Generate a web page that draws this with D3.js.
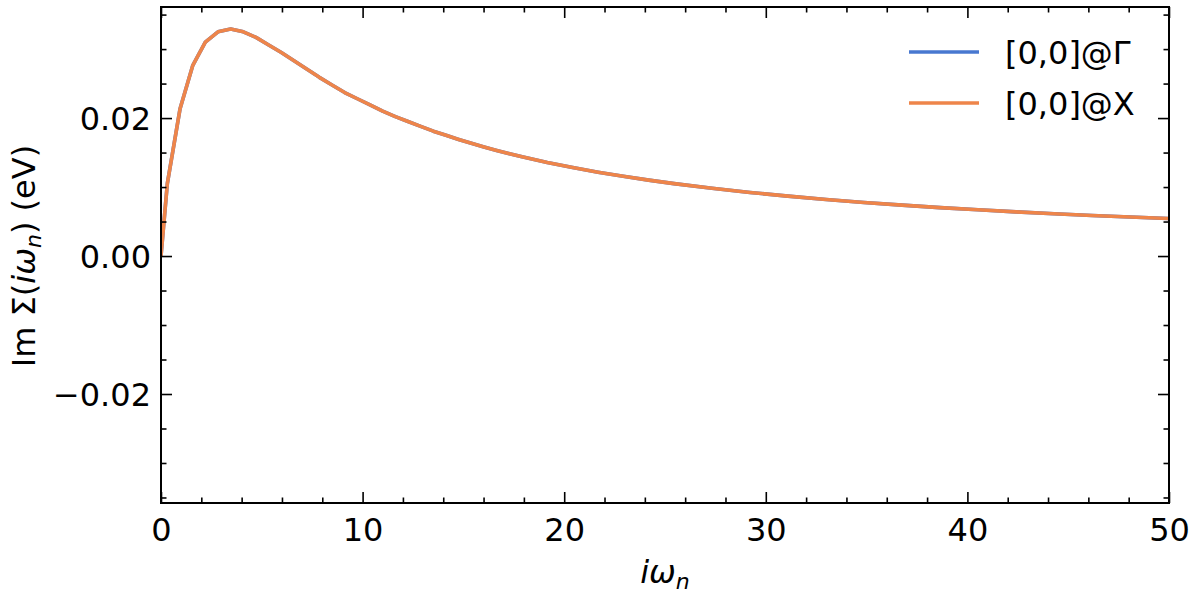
<!DOCTYPE html>
<html><head><meta charset="utf-8">
<script src="https://cdn.jsdelivr.net/npm/d3@7"></script>
<style>body{margin:0;background:#fff}svg{display:block}text{font-family:"DejaVu Sans",sans-serif;fill:#000}</style>
</head><body><svg id="c" width="1198" height="598"></svg>
<script>
const freqs = [0, 0.314, 0.942, 1.571, 2.199, 2.827, 3.456, 4.084, 4.712, 5.341, 5.969, 6.597, 7.226, 7.854, 8.482, 9.111, 9.739, 10.367, 10.996, 11.624, 12.252, 12.881, 13.509, 14.137, 14.765, 15.394, 16.022, 16.65, 17.91, 19.16, 20.42, 21.68, 22.93, 24.19, 25.45, 27.33, 29.22, 31.10, 32.99, 34.87, 36.76, 38.64, 40.53, 42.41, 44.30, 46.18, 48.07, 49.95, 50.58];
const gammaVals = [0, 0.0105, 0.0213, 0.0276, 0.0310, 0.0325, 0.0329, 0.0325, 0.0317, 0.0306, 0.0295, 0.0283, 0.0271, 0.0259, 0.0248, 0.0237, 0.0228, 0.0219, 0.0210, 0.0202, 0.0195, 0.0188, 0.0181, 0.0175, 0.0169, 0.01634, 0.01580, 0.01530, 0.01438, 0.01356, 0.01282, 0.01215, 0.01156, 0.01100, 0.01050, 0.00982, 0.00922, 0.00868, 0.00820, 0.00777, 0.00738, 0.00702, 0.00670, 0.00640, 0.00613, 0.00588, 0.00565, 0.00544, 0.00537];
const xVals = [0, 0.314, 0.942, 1.571, 2.199, 2.827, 3.456, 4.084, 4.712, 5.341, 5.969, 6.597, 7.226, 7.854, 8.482, 9.111, 9.739, 10.367, 10.996, 11.624, 12.252, 12.881, 13.509, 14.137, 14.765, 15.394, 16.022, 16.65, 17.91, 19.16, 20.42, 21.68, 22.93, 24.19, 25.45, 27.33, 29.22, 31.10, 32.99, 34.87, 36.76, 38.64, 40.53, 42.41, 44.30, 46.18, 48.07, 49.95, 50.58];
const xPointVals = [0, 0.0105, 0.0213, 0.0276, 0.0310, 0.0325, 0.0329, 0.0325, 0.0317, 0.0306, 0.0295, 0.0283, 0.0271, 0.0259, 0.0248, 0.0237, 0.0228, 0.0219, 0.0210, 0.0202, 0.0195, 0.0188, 0.0181, 0.0175, 0.0169, 0.01634, 0.01580, 0.01530, 0.01438, 0.01356, 0.01282, 0.01215, 0.01156, 0.01100, 0.01050, 0.00982, 0.00922, 0.00868, 0.00820, 0.00777, 0.00738, 0.00702, 0.00670, 0.00640, 0.00613, 0.00588, 0.00565, 0.00544, 0.00537];
const seriesNames = ["[0,0]@Γ", "[0,0]@X"];
const seriesColors = ["#4878d0", "#ee854a"];
const xTicks = [0, 10, 20, 30, 40, 50];
const yTicks = [-0.02, 0.00, 0.02];

const L = 161, R = 1169, T = 7, B = 503;
const FS = 32;
const svg = d3.select("#c");
const x = d3.scaleLinear().domain([0, 50]).range([L, R]);
const y = d3.scaleLinear().domain([-0.0358, 0.0361]).range([B, T]);

svg.append("clipPath").attr("id", "clip").append("rect")
  .attr("x", L).attr("y", T).attr("width", R - L).attr("height", B - T);

const line = d3.line().x(d => x(d[0])).y(d => y(d[1]));
const series = [d3.zip(freqs, gammaVals), d3.zip(xVals, xPointVals)];
series.forEach((s, i) => {
  svg.append("path").attr("d", line(s)).attr("fill", "none")
    .attr("stroke", seriesColors[i]).attr("stroke-width", 3.6)
    .attr("stroke-linejoin", "round").attr("clip-path", "url(#clip)");
});

const fmtY = v => (v < 0 ? "\u2212" : "") + Math.abs(v).toFixed(2);
const xMinor = d3.range(0, 51, 2).filter(v => v % 10 !== 0);
const yMinor = [-0.035, -0.03, -0.025, -0.015, -0.01, -0.005, 0.005, 0.01, 0.015, 0.025, 0.03, 0.035];

function ax(axisGen, tx, ty, size, fmt, ticks) {
  const g = svg.append("g").attr("transform", `translate(${tx},${ty})`)
    .call(axisGen.tickValues(ticks).tickSizeInner(size).tickSizeOuter(0).tickFormat(fmt));
  g.select(".domain").remove();
  g.selectAll("line").attr("stroke", "#000").attr("stroke-width", 1.6);
  g.selectAll("text").style("font-size", FS + "px").style("font-family", "DejaVu Sans");
  return g;
}
// bottom
const gb = ax(d3.axisTop(x), 0, B, 11, d3.format("d"), xTicks);
gb.selectAll("text").attr("y", 0).attr("dy", "0").attr("transform", "translate(0,38)");
ax(d3.axisTop(x), 0, B, 5.5, () => "", xMinor);
// top
ax(d3.axisBottom(x), 0, T, 11, () => "", xTicks);
ax(d3.axisBottom(x), 0, T, 5.5, () => "", xMinor);
// left
const gl = ax(d3.axisRight(y), L, 0, 11, fmtY, yTicks);
gl.selectAll("text").attr("x", -10).attr("text-anchor", "end").attr("dy", "0.36em");
ax(d3.axisRight(y), L, 0, 5.5, () => "", yMinor);
// right
ax(d3.axisLeft(y), R, 0, 11, () => "", yTicks);
ax(d3.axisLeft(y), R, 0, 5.5, () => "", yMinor);

svg.append("rect").attr("x", L).attr("y", T).attr("width", R - L).attr("height", B - T)
  .attr("fill", "none").attr("stroke", "#000").attr("stroke-width", 2);

// x label
const xl = svg.append("text").attr("x", 665).attr("y", 583).attr("text-anchor", "middle").style("font-size", FS + "px");
xl.append("tspan").text("iω").style("font-style", "italic");
xl.append("tspan").text("n").style("font-style", "italic").style("font-size", "22px").attr("dy", 6);

// y label
const yl = svg.append("text").attr("transform", "translate(35,256) rotate(-90)").attr("text-anchor", "middle").style("font-size", FS + "px");
yl.append("tspan").text("Im Σ(");
yl.append("tspan").text("iω").style("font-style", "italic");
yl.append("tspan").text("n").style("font-style", "italic").style("font-size", "22px").attr("dy", 6);
yl.append("tspan").text(") (eV)").attr("dy", -6);

// legend
seriesNames.forEach((n, i) => {
  const yy = 52 + i * 51;
  svg.append("line").attr("x1", 909).attr("x2", 979).attr("y1", yy).attr("y2", yy)
    .attr("stroke", seriesColors[i]).attr("stroke-width", 3.6);
  svg.append("text").attr("x", 1005).attr("y", yy).attr("dy", "0.36em").style("font-size", FS + "px").text(n);
});
</script></body></html>
